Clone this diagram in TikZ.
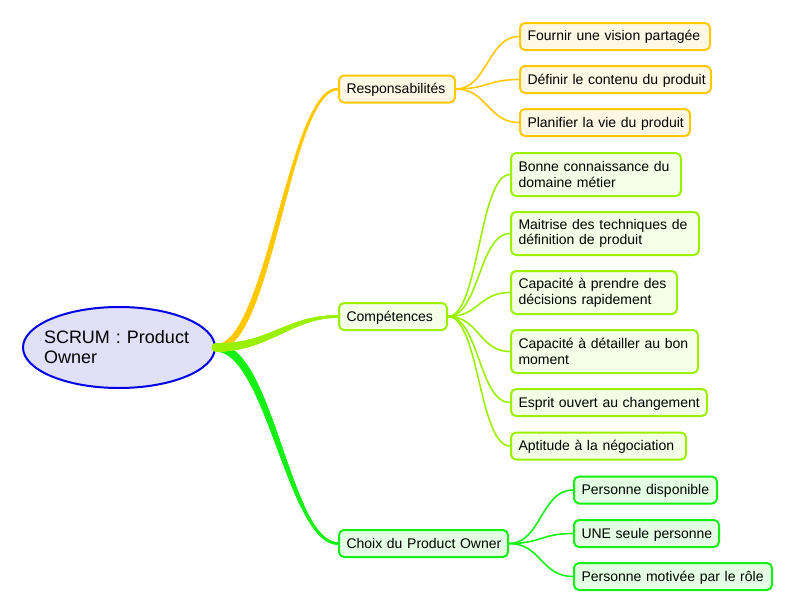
\documentclass[tikz,border=0pt]{standalone}
\usepackage{fontspec}
\setmainfont{Liberation Sans}
\frenchspacing
\usetikzlibrary{decorations.markings,shapes.geometric}
\definecolor{corange}{RGB}{255,200,0}
\definecolor{forange}{RGB}{255,248,228}
\definecolor{clime}{RGB}{155,240,0}
\definecolor{flime}{RGB}{243,255,230}
\definecolor{cgreen}{RGB}{20,240,20}
\definecolor{fgreen}{RGB}{228,255,228}
\definecolor{rootb}{RGB}{0,0,230}
\definecolor{rootf}{RGB}{224,224,248}
\tikzset{
  box/.style={draw, rounded corners=5pt, line width=2pt, inner xsep=7.5pt, inner ysep=0pt, align=left, font=\fontsize{14}{15.6}\selectfont},
  one/.style={minimum height=27pt, text height=11.5pt, text depth=2.5pt},
  two/.style={minimum height=43pt},
  rbox/.style={box, draw=corange, fill=forange},
  lbox/.style={box, draw=clime, fill=flime},
  gbox/.style={box, draw=cgreen, fill=fgreen},
  leafline/.style={line width=1.6pt},
  taper/.style n args={3}{postaction={decorate, decoration={markings,
     mark=between positions 0 and 1 step 0.5pt with {%
       \pgfmathsetmacro\taprad{#2+(#3-#2)*\pgfkeysvalueof{/pgf/decoration/mark info/distance from start}/\pgfdecoratedpathlength}%
       \fill[#1] (0,0) circle[radius=\taprad pt];}}}},
}
\begin{document}
\begin{tikzpicture}[x=1pt,y=-1pt]
\useasboundingbox (0,0) rectangle (796,613);
% root
\node[ellipse, draw=rootb, fill=rootf, line width=2pt, minimum width=192pt, minimum height=81pt, inner sep=0pt] (root) at (119,347.5) {};
\node[text width=150pt, align=left, inner sep=0pt, font=\fontsize{18}{20}\selectfont] (roottext) at (root.center) {SCRUM : Product\\Owner};
% branches
\node[rbox, one, text width=101pt] (resp) at (397,89) {\mbox{Responsabilités}};
\node[lbox, one, text width=93pt] (comp) at (393,316.5) {\mbox{Compétences}};
\node[gbox, one, text width=154pt] (choix) at (423.5,543.5) {\mbox{Choix du Product Owner}};
% leaves responsabilites
\node[rbox, one, text width=175pt] (l1) at (615,36.5) {\mbox{Fournir une vision partagée}};
\node[rbox, one, text width=176pt] (l2) at (615.5,79.5) {\mbox{Définir le contenu du produit}};
\node[rbox, one, text width=155pt] (l3) at (605,122.5) {\mbox{Planifier la vie du produit}};
% leaves competences
\node[lbox, two, text width=155pt] (c1) at (596,174.5) {\mbox{Bonne connaissance du}\\\mbox{domaine métier}};
\node[lbox, two, text width=173pt] (c2) at (605,233.5) {\mbox{Maitrise des techniques de}\\\mbox{définition de produit}};
\node[lbox, two, text width=151pt] (c3) at (594,292.5) {\mbox{Capacité à prendre des}\\\mbox{décisions rapidement}};
\node[lbox, two, text width=172pt] (c4) at (604.5,351.5) {\mbox{Capacité à détailler au bon}\\\mbox{moment}};
\node[lbox, one, text width=181pt] (c5) at (609,402.5) {\mbox{Esprit ouvert au changement}};
\node[lbox, one, text width=160pt] (c6) at (598.5,446) {\mbox{Aptitude à la négociation}};
% leaves choix
\node[gbox, one, text width=128pt] (g1) at (645.5,490) {\mbox{Personne disponible}};
\node[gbox, one, text width=130pt] (g2) at (646.5,533.5) {\mbox{UNE seule personne}};
\node[gbox, one, text width=183pt] (g3) at (673,576.5) {\mbox{Personne motivée par le rôle}};
% main connectors
\draw[corange, line width=2.4pt, taper={corange}{3.2}{1.2}] (root.east) .. controls +(54,0) and +(-49,0) .. (resp.west);
\draw[cgreen, line width=2.6pt, taper={cgreen}{4.2}{1.3}] (root.east) .. controls +(54,0) and +(-49,0) .. (choix.west);
\draw[clime, line width=2.6pt, taper={clime}{4.5}{1.3}] (root.east) .. controls +(54,0) and +(-49,0) .. (comp.west);
% leaf connectors
\foreach \t in {l1,l2,l3}{\draw[corange, leafline] (resp.east) .. controls +(31,0) and +(-31,0) .. (\t.west);}
\foreach \t in {c1,c2,c3,c4,c5,c6}{\draw[clime, leafline] (comp.east) .. controls +(31,0) and +(-31,0) .. (\t.west);}
\foreach \t in {g1,g2,g3}{\draw[cgreen, leafline] (choix.east) .. controls +(32,0) and +(-32,0) .. (\t.west);}
\end{tikzpicture}
\end{document}
